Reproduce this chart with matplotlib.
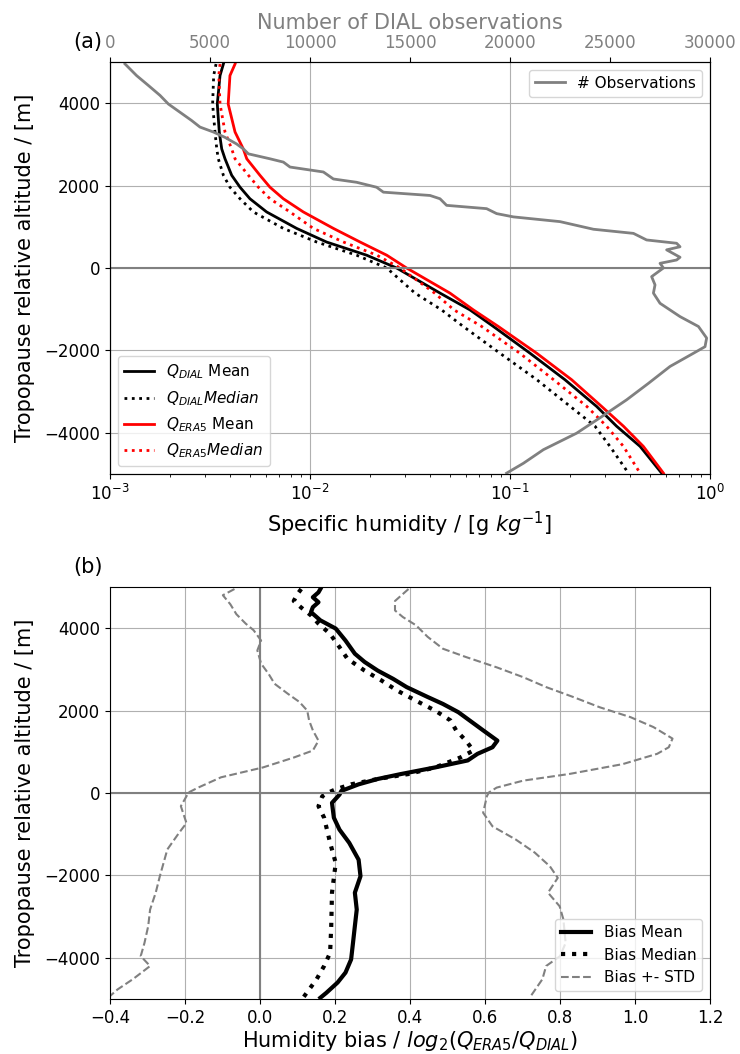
import matplotlib
matplotlib.use("Agg")
import matplotlib.pyplot as plt
import numpy as np

# ---------------- Panel (a) data ----------------
alt_q = [4950, 4670, 3980, 3300, 2890, 2650, 2250, 1960, 1680, 1360, 960, 630, 310, 0,
         -610, -1018, -1420, -2070, -2710, -3360, -3840, -4330, -4980]
q_dial_mean = [0.00369, 0.00355, 0.00344, 0.00352, 0.00362, 0.00376, 0.00406, 0.00447,
               0.00501, 0.00607, 0.00858, 0.0121, 0.0192, 0.0271, 0.0447, 0.0631,
               0.0826, 0.126, 0.188, 0.271, 0.341, 0.447, 0.573]
q_dial_median = [0.00339, 0.00330, 0.00326, 0.00335, 0.00342, 0.00348, 0.00369, 0.00398,
                 0.00447, 0.00521, 0.00736, 0.0108, 0.0171, 0.0242, 0.0335, 0.0455,
                 0.0584, 0.0891, 0.136, 0.200, 0.266, 0.316, 0.391]
q_era5_mean = [0.00422, 0.00398, 0.00390, 0.00422, 0.00464, 0.00483, 0.00562, 0.00631,
               0.00736, 0.00926, 0.0131, 0.0178, 0.0242, 0.0304, 0.0501, 0.0656,
               0.0874, 0.136, 0.203, 0.287, 0.369, 0.464, 0.585]
q_era5_median = [0.00355, 0.00350, 0.00355, 0.00376, 0.00406, 0.00422, 0.00492, 0.00552,
                 0.00631, 0.00794, 0.0104, 0.0147, 0.0216, 0.0282, 0.0420, 0.0525,
                 0.0722, 0.112, 0.165, 0.242, 0.304, 0.369, 0.447]

alt_obs = [4953, 4670, 4430, 4190, 3980, 3780, 3580, 3420, 3300, 3170, 3010, 2890, 2770,
           2650, 2570, 2450, 2330, 2160, 2080, 1960, 1840, 1760, 1680, 1520, 1440, 1320,
           1240, 1125, 940, 840, 680, 600, 515, 440, 260, 194, 113, 0, -210, -410, -610,
           -857, -1180, -1420, -1700, -1910, -2070, -2390, -2800, -3200, -3610, -4010,
           -4410, -4740, -4980]
n_obs = [750, 1330, 1920, 2500, 2920, 3500, 4080, 4500, 5170, 5750, 6330, 6670, 6920,
         8000, 8670, 9000, 10670, 11170, 12330, 13330, 13670, 16000, 16500, 16830, 18830,
         19330, 20170, 22500, 24170, 26170, 26830, 28330, 28500, 27830, 28500, 28330,
         27500, 27670, 27080, 27250, 27170, 27500, 28500, 29420, 29830, 29750, 29170,
         28000, 26920, 25830, 24580, 23330, 21670, 20670, 19830]

# ---------------- Panel (b) data ----------------
alt_bias_mean = [4950, 4870, 4750, 4630, 4510, 4390, 4190, 3990, 3700, 3380, 3180, 2970,
                 2770, 2570, 2330, 2160, 1960, 1760, 1520, 1270, 1110, 950, 790, 620,
                 460, 340, 210, 50, -40, -240, -600, -890, -1210, -1620, -2020, -2420,
                 -2830, -3230, -3640, -4040, -4360, -4600, -4850, -4970]
bias_mean = [0.161, 0.156, 0.141, 0.156, 0.141, 0.136, 0.161, 0.202, 0.228, 0.253, 0.279,
             0.314, 0.355, 0.391, 0.447, 0.488, 0.529, 0.559, 0.595, 0.633, 0.620, 0.580,
             0.554, 0.467, 0.376, 0.314, 0.263, 0.217, 0.212, 0.192, 0.197, 0.212, 0.238,
             0.263, 0.268, 0.253, 0.258, 0.253, 0.248, 0.243, 0.228, 0.207, 0.177, 0.161]

alt_bias_median = [4950, 4830, 4660, 4500, 4310, 4110, 3860, 3540, 3260, 2970, 2730, 2490,
                   2240, 2000, 1760, 1520, 1270, 1030, 860, 620, 460, 340, 210, 90, 10,
                   -80, -320, -600, -1210, -1700, -2420, -3230, -3880, -4200, -4520,
                   -4770, -4970]
bias_median = [0.110, 0.100, 0.090, 0.110, 0.136, 0.156, 0.187, 0.212, 0.233, 0.279, 0.324,
               0.365, 0.416, 0.467, 0.508, 0.523, 0.549, 0.569, 0.534, 0.467, 0.396, 0.314,
               0.243, 0.202, 0.182, 0.166, 0.156, 0.171, 0.187, 0.202, 0.192, 0.190, 0.187,
               0.171, 0.151, 0.131, 0.115]

alt_std_low = [4950, 4800, 4580, 4340, 4110, 3950, 3700, 3460, 3140, 2890, 2650, 2410,
               2210, 2000, 1760, 1520, 1270, 1030, 860, 620, 380, 130, 10, -80, -320,
               -730, -970, -1370, -2020, -2420, -2830, -3230, -3640, -3960, -4200, -4520,
               -4770, -4930, -5000]
bias_std_low = [-0.068, -0.099, -0.079, -0.063, -0.038, -0.017, 0.003, -0.007, 0.003,
                0.023, 0.039, 0.074, 0.105, 0.126, 0.131, 0.141, 0.156, 0.141, 0.090,
                0.008, -0.104, -0.165, -0.191, -0.196, -0.211, -0.196, -0.216, -0.247,
                -0.267, -0.278, -0.293, -0.298, -0.308, -0.318, -0.293, -0.339, -0.380,
                -0.400, -0.410]

alt_std_high = [4950, 4660, 4430, 4270, 4070, 3790, 3500, 3300, 3050, 2810, 2570, 2330,
                2080, 1840, 1600, 1320, 1110, 950, 700, 460, 300, 130, 10, -80, -480,
                -810, -1130, -1450, -1780, -2060, -2420, -2750, -3070, -3640, -3960,
                -4200, -4520, -4930]
bias_std_high = [0.396, 0.360, 0.360, 0.381, 0.416, 0.447, 0.488, 0.549, 0.631, 0.702,
                 0.763, 0.835, 0.906, 0.988, 1.049, 1.100, 1.090, 1.059, 0.967, 0.824,
                 0.702, 0.631, 0.610, 0.605, 0.595, 0.620, 0.682, 0.733, 0.773, 0.794,
                 0.768, 0.799, 0.809, 0.815, 0.800, 0.763, 0.753, 0.722]

yticks = [-4000, -2000, 0, 2000, 4000]
obs_ticks = [0, 5000, 10000, 15000, 20000, 25000, 30000]
bias_ticks = [-0.4, -0.2, 0.0, 0.2, 0.4, 0.6, 0.8, 1.0, 1.2]

plt.rcParams['font.family'] = ['DejaVu Sans']
TICK = 12
LAB = 15
LEG = 11

fig = plt.figure(figsize=(7.4, 10.54), dpi=100)
ax1 = fig.add_axes([0.1486, 0.5503, 0.8109, 0.3909])
ax2 = fig.add_axes([0.1486, 0.0522, 0.8109, 0.3909])

# ---- Panel (a)
ax1.plot(q_dial_mean, alt_q, color='black', lw=2, label=r'$Q_{DIAL}$ Mean')
ax1.plot(q_dial_median, alt_q, color='black', lw=2, ls=':', label=r'$Q_{DIAL} Median$')
ax1.plot(q_era5_mean, alt_q, color='red', lw=2, label=r'$Q_{ERA5}$ Mean')
ax1.plot(q_era5_median, alt_q, color='red', lw=2, ls=':', label=r'$Q_{ERA5} Median$')
ax1.set_xscale('log')
ax1.set_xlim(1e-3, 1e0)
ax1.set_ylim(-5000, 5000)
ax1.set_yticks(yticks)
ax1.grid(True, color='#b0b0b0', lw=0.8)
ax1.axhline(0, color='gray', lw=1.5)
ax1.tick_params(labelsize=TICK)
ax1.set_xlabel(r'Specific humidity / [g $kg^{-1}$]', fontsize=LAB)
ax1.set_ylabel('Tropopause relative altitude / [m]', fontsize=LAB, labelpad=7)
ax1.legend(loc='lower left', fontsize=LEG)
ax1.text(-0.062, 1.049, '(a)', transform=ax1.transAxes, fontsize=LAB, ha='left', va='center')

ax1b = ax1.twiny()
ax1b.plot(n_obs, alt_obs, color='gray', lw=2, label='# Observations')
ax1b.set_xlim(0, 30000)
ax1b.set_xticks(obs_ticks)
ax1b.tick_params(labelsize=TICK, labelcolor='gray')
ax1b.set_xlabel('Number of DIAL observations', fontsize=LAB, color='gray')
ax1b.legend(loc='upper right', fontsize=LEG)

# ---- Panel (b)
ax2.plot(bias_mean, alt_bias_mean, color='black', lw=3, label='Bias Mean')
ax2.plot(bias_median, alt_bias_median, color='black', lw=3, ls=':', label='Bias Median')
ax2.plot(bias_std_low, alt_std_low, color='gray', lw=1.5, ls='--', label='Bias +- STD')
ax2.plot(bias_std_high, alt_std_high, color='gray', lw=1.5, ls='--')
ax2.set_xlim(-0.4, 1.2)
ax2.set_ylim(-5000, 5000)
ax2.set_xticks(bias_ticks)
ax2.set_yticks(yticks)
ax2.grid(True, color='#b0b0b0', lw=0.8)
ax2.axhline(0, color='gray', lw=1.5)
ax2.axvline(0, color='gray', lw=1.5)
ax2.tick_params(labelsize=TICK)
ax2.set_xlabel(r'Humidity bias / $log_2(Q_{ERA5}/Q_{DIAL})$', fontsize=LAB, labelpad=1.5)
ax2.set_ylabel('Tropopause relative altitude / [m]', fontsize=LAB, labelpad=7)
ax2.legend(loc='lower right', fontsize=LEG)
ax2.text(-0.062, 1.049, '(b)', transform=ax2.transAxes, fontsize=LAB, ha='left', va='center')

fig.savefig('out.png', dpi=100)
